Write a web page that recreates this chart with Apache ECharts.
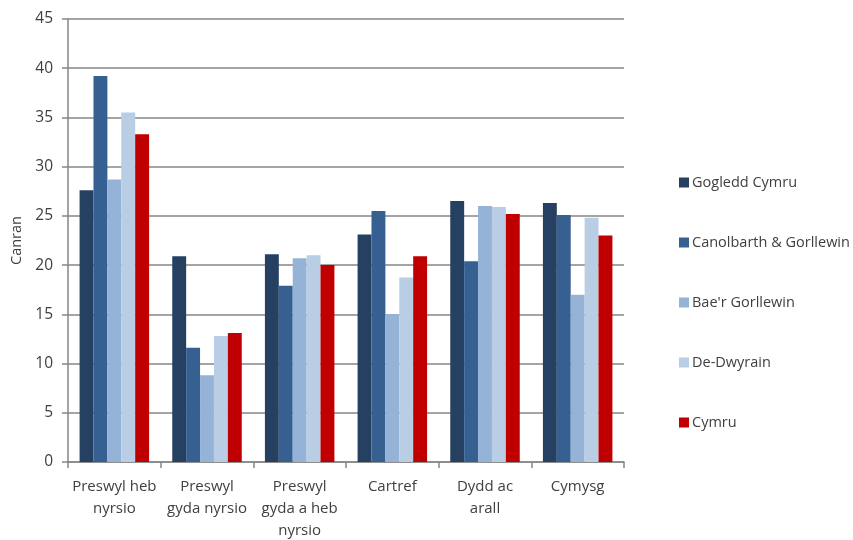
<!DOCTYPE html>
<html>
<head>
<meta charset="utf-8">
<script src="https://cdn.jsdelivr.net/npm/echarts@6/dist/echarts.min.js"></script>
<style>html,body{margin:0;padding:0;background:#fff}#c{width:853px;height:540px}</style>
</head>
<body>
<div id="c"></div>
<script>
var categories = ["Preswyl heb\nnyrsio", "Preswyl\ngyda nyrsio", "Preswyl\ngyda a heb\nnyrsio", "Cartref", "Dydd ac\narall", "Cymysg"];
var seriesNames = ["Gogledd Cymru", "Canolbarth & Gorllewin", "Bae'r Gorllewin", "De-Dwyrain", "Cymru"];
var gogledd = [27.6, 20.9, 21.1, 23.1, 26.5, 26.3];
var canolbarth = [39.2, 11.6, 17.9, 25.5, 20.4, 25.1];
var baer = [28.7, 8.8, 20.7, 15.0, 26.0, 17.0];
var deDwyrain = [35.5, 12.8, 21.0, 18.75, 25.9, 24.8];
var cymru = [33.3, 13.1, 20.0, 20.9, 25.2, 23.0];
var yTicks = [0, 5, 10, 15, 20, 25, 30, 35, 40, 45];
var colors = ["#254061", "#376092", "#95B3D7", "#B9CDE5", "#C00000"];
var allData = [gogledd, canolbarth, baer, deDwyrain, cymru];

var font = "'Open Sans', 'Noto Sans', sans-serif";
var chart = echarts.init(document.getElementById('c'), null, {renderer: 'canvas'});
chart.setOption({
  animation: false,
  color: colors,
  grid: {left: 68, right: 229, top: 19, bottom: 78, containLabel: false, outerBoundsMode: 'none'},
  legend: {
    orient: 'vertical', left: 679, top: 175, itemGap: 45, padding: 0,
    itemWidth: 10, itemHeight: 10, icon: 'rect',
    data: seriesNames,
    textStyle: {fontFamily: font, fontSize: 14.5, color: '#404040', padding: [0,0,0,-2]}
  },
  xAxis: {
    type: 'category', data: categories,
    axisLine: {lineStyle: {color: '#868686', width: 1.5}},
    axisTick: {show: true, alignWithLabel: false, length: 6, lineStyle: {color: '#868686', width: 1.5}},
    axisLabel: {fontFamily: font, fontSize: 15, color: '#404040', margin: 14, lineHeight: 22, interval: 0}
  },
  yAxis: {
    type: 'value', min: yTicks[0], max: yTicks[yTicks.length - 1], interval: 5,
    name: 'Canran', nameLocation: 'middle', nameGap: 41,
    nameTextStyle: {fontFamily: font, fontSize: 14.5, color: '#404040'},
    axisLine: {show: true, lineStyle: {color: '#868686', width: 1.5}},
    axisTick: {show: true, inside: false, length: 6, lineStyle: {color: '#868686', width: 1.5}},
    axisLabel: {fontFamily: font, fontSize: 15.5, color: '#404040', margin: 15},
    splitLine: {show: true, lineStyle: {color: '#868686', width: 1.5}}
  },
  series: seriesNames.map(function (n, i) {
    return {
      name: n, type: 'bar', data: allData[i],
      barGap: '0%', barCategoryGap: '25%',
      itemStyle: {color: colors[i]}
    };
  })
});
</script>
</body>
</html>
